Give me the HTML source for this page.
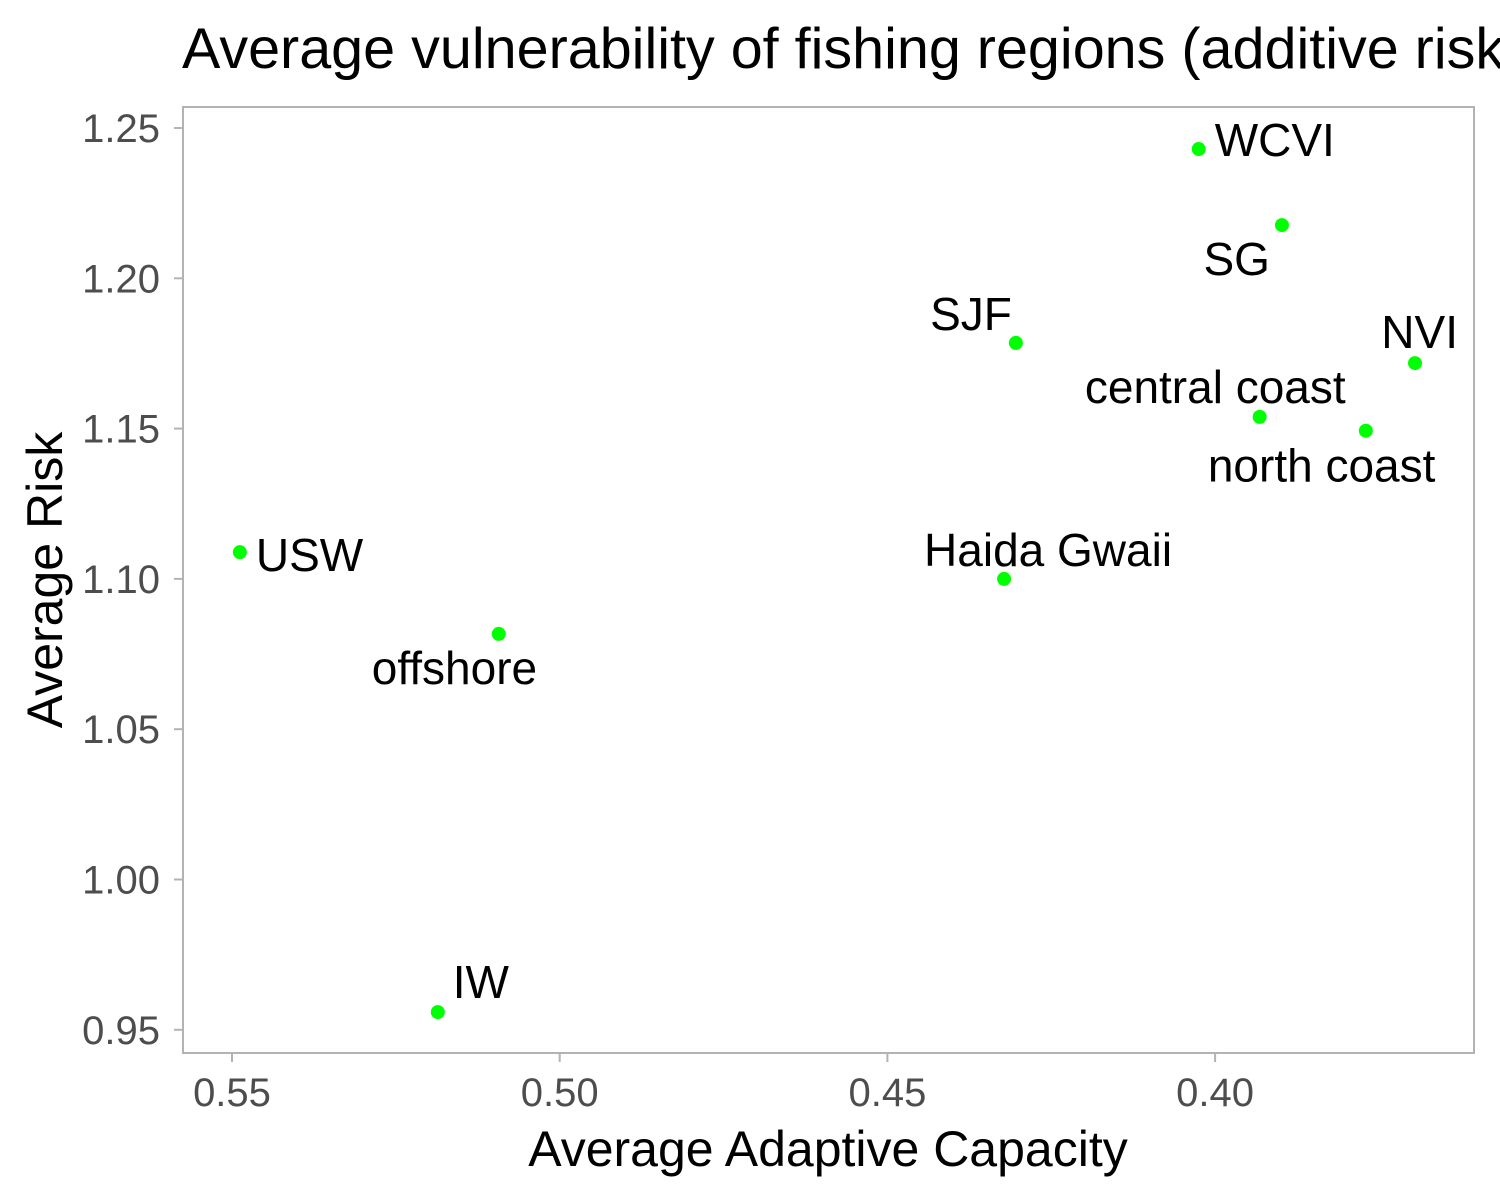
<!DOCTYPE html>
<html><head><meta charset="utf-8"><style>
body{margin:0;background:#fff;overflow:hidden}
svg{display:block;font-family:"Liberation Sans",Arial,sans-serif}
</style></head><body>
<svg id="chart" width="1500" height="1200">
<text x="182" y="68" font-size="57.5" fill="#000">Average vulnerability of fishing regions (additive risk)</text>
<rect x="183" y="107" width="1291" height="946" fill="#fff" stroke="#b3b3b3" stroke-width="2"/>
<g id="axes"></g>
<g id="points"></g>
<text x="828" y="1166" font-size="50" text-anchor="middle" fill="#000">Average Adaptive Capacity</text>
<text transform="translate(62,580) rotate(-90)" font-size="50" text-anchor="middle" fill="#000">Average Risk</text>
</svg>
<script>
const regions=["WCVI","SG","SJF","NVI","central coast","north coast","USW","Haida Gwaii","offshore","IW"];
const capacity=[0.4025,0.3898,0.4304,0.3695,0.3932,0.3770,0.5488,0.4322,0.5093,0.5186];
const risk=[1.243,1.2177,1.1785,1.1718,1.1539,1.1493,1.1089,1.100,1.0817,0.9559];
const xTicks=[0.55,0.50,0.45,0.40];
const xTickLabels=["0.55","0.50","0.45","0.40"];
const yTicks=[0.95,1.00,1.05,1.10,1.15,1.20,1.25];
const yTickLabels=["0.95","1.00","1.05","1.10","1.15","1.20","1.25"];
// label placement offsets (styling)
const labelDx=[16,-12,-4,43,86,-158,16,-80,-127,15];
const labelDy=[-9,34,-29,-31,-30,35,3,-29,34,-30];
const labelAnchor=["start","end","end","end","end","start","start","start","start","start"];
const X=v=>232+(0.55-v)/0.05*327.7;
const Y=v=>128+(1.25-v)/0.05*150.3;
const NS="http://www.w3.org/2000/svg";
const axes=document.getElementById('axes'),pts=document.getElementById('points');
function mk(t,a,p){const e=document.createElementNS(NS,t);for(const k in a)e.setAttribute(k,a[k]);p.appendChild(e);return e;}
xTicks.forEach((v,i)=>{
 const l=mk('line',{x1:X(v),x2:X(v),y1:1053,y2:1062,stroke:'#b3b3b3','stroke-width':2},axes);
 
 
 const t=mk('text',{x:X(v),y:1106,'font-size':40,'text-anchor':'middle',fill:'#4d4d4d'},axes);
 t.textContent=xTickLabels[i];
 
 
});
yTicks.forEach((v,i)=>{
 const l=mk('line',{x1:174,x2:183,y1:Y(v),y2:Y(v),stroke:'#b3b3b3','stroke-width':2},axes);
 
 
 const t=mk('text',{x:160,y:Y(v)+14,'font-size':40,'text-anchor':'end',fill:'#4d4d4d'},axes);
 t.textContent=yTickLabels[i];
 
 
});
regions.forEach((r,i)=>{
 const cx=X(capacity[i]),cy=Y(risk[i]);
 const c=mk('circle',{cx:cx,cy:cy,r:7,fill:'#00ff00'},pts);
 
 
 const t=mk('text',{x:cx+labelDx[i],y:cy+labelDy[i]+16,'font-size':46,'text-anchor':labelAnchor[i],fill:'#000'},pts);
 t.textContent=r;
 
 
});
</script>
</body></html>
